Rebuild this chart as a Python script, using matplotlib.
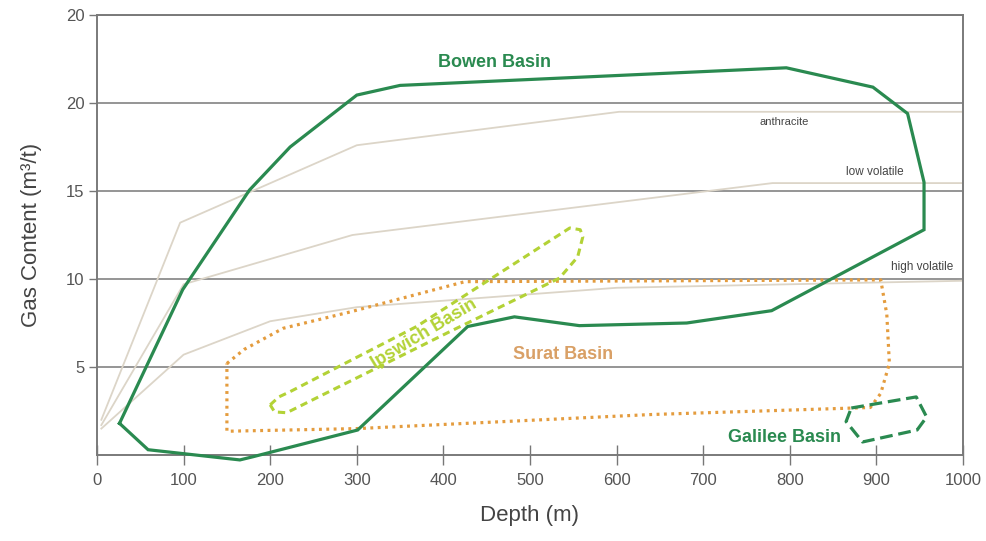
import matplotlib
matplotlib.use("Agg")
import matplotlib.pyplot as plt

plt.rcParams['font.family'] = ['Liberation Sans', 'DejaVu Sans']

# ---- data (depth m, gas content m3/t) ----
anthracite_x = [5, 96, 300, 603, 1000]
anthracite_y = [2.0, 13.2, 17.6, 19.5, 19.5]
lowvol_x = [5, 100, 295, 780, 1000]
lowvol_y = [1.7, 9.7, 12.5, 15.45, 15.45]
highvol_x = [5, 100, 200, 300, 600, 1000]
highvol_y = [1.5, 5.7, 7.6, 8.4, 9.5, 9.9]

bowen_x = [26, 59, 165, 180, 301, 428, 482, 557, 681, 779, 955, 955, 936, 896,
           796, 350, 300, 223, 176, 99, 26]
bowen_y = [1.8, 0.3, -0.28, -0.1, 1.42, 7.3, 7.85, 7.35, 7.5, 8.2, 12.8, 15.5,
           19.4, 20.9, 22.0, 21.0, 20.45, 17.5, 15.05, 9.4, 1.8]

surat_x = [150, 170, 215, 290, 425, 905, 912, 915, 905, 893, 640, 300, 150, 150]
surat_y = [5.2, 6.0, 7.2, 8.1, 9.85, 9.95, 8.0, 5.2, 3.5, 2.7, 2.3, 1.5, 1.35, 5.2]

ipswich_x = [200, 210, 223, 369, 546, 558, 561, 555, 534, 407, 219, 205, 200]
ipswich_y = [2.85, 3.3, 3.6, 7.3, 12.9, 12.8, 12.4, 11.25, 10.05, 7.0, 2.4, 2.45, 2.85]

galilee_x = [871, 946, 958, 947, 884, 865, 871]
galilee_y = [2.67, 3.3, 2.16, 1.42, 0.74, 1.9, 2.67]

x_ticks = [0, 100, 200, 300, 400, 500, 600, 700, 800, 900, 1000]
y_ticks = [5, 10, 15, 20, 25]
y_tick_labels = ['5', '10', '15', '20', '20']

green = '#2a8a50'
orange = '#e49c3e'
ygreen = '#b3d236'
rank_c = '#dcd5c8'

fig = plt.figure(figsize=(9.87, 5.41), dpi=100)
ax = fig.add_axes([97/987, 86/541, 866/987, 440/541])

for yv in y_ticks:
    ax.axhline(yv, color='#8c8c8c', lw=1.3, zorder=1)

ax.plot(anthracite_x, anthracite_y, color=rank_c, lw=1.3, zorder=2)
ax.plot(lowvol_x, lowvol_y, color=rank_c, lw=1.3, zorder=2)
ax.plot(highvol_x, highvol_y, color=rank_c, lw=1.3, zorder=2)

ax.plot(surat_x, surat_y, color=orange, lw=2.3, linestyle=(0, (0.9, 1.4)), zorder=3)
ax.plot(ipswich_x, ipswich_y, color=ygreen, lw=2.2, linestyle=(0, (2.4, 1.6)), zorder=3)
ax.plot(bowen_x, bowen_y, color=green, lw=2.3, zorder=4, clip_on=False,
        solid_joinstyle='miter')
ax.plot(galilee_x, galilee_y, color=green, lw=2.3, linestyle=(0, (4, 1.8)), zorder=4)

ax.text(459, 22.3, 'Bowen Basin', color=green, fontsize=13, fontweight='bold',
        ha='center', va='center', zorder=5)
ax.text(538, 5.7, 'Surat Basin', color='#d9a066', fontsize=13, fontweight='bold',
        ha='center', va='center', zorder=5)
ax.text(794, 0.97, 'Galilee Basin', color=green, fontsize=13, fontweight='bold',
        ha='center', va='center', zorder=5)
ax.text(378, 6.9, 'Ipswich Basin', color=ygreen, fontsize=13, fontweight='bold',
        ha='center', va='center', rotation=31, rotation_mode='anchor', zorder=5)
ax.text(794, 18.9, 'anthracite', color='#444444', fontsize=8,
        ha='center', va='center', zorder=5)
ax.text(898, 16.1, 'low volatile', color='#444444', fontsize=8.5,
        ha='center', va='center', zorder=5)
ax.text(953, 10.7, 'high volatile', color='#444444', fontsize=8.5,
        ha='center', va='center', zorder=5)

ax.set_xlim(0, 1000)
ax.set_ylim(0, 25)
ax.set_xticks(x_ticks)
ax.set_xticklabels([str(v) for v in x_ticks])
ax.set_yticks(y_ticks)
ax.set_yticklabels(y_tick_labels)
ax.tick_params(axis='x', direction='inout', length=14, width=1, color='#777777',
               labelsize=12, labelcolor='#555555', pad=6)
ax.tick_params(axis='y', direction='out', length=6, width=1, color='#777777',
               labelsize=12, labelcolor='#555555', pad=3)

for s in ax.spines.values():
    s.set_color('#7a7a7a')
    s.set_linewidth(1.4)

ax.set_xlabel('Depth (m)', fontsize=16, color='#444444', labelpad=12)
ax.set_ylabel('Gas Content (m³/t)', fontsize=16, color='#444444', labelpad=17)

fig.savefig('out.png', dpi=100)
